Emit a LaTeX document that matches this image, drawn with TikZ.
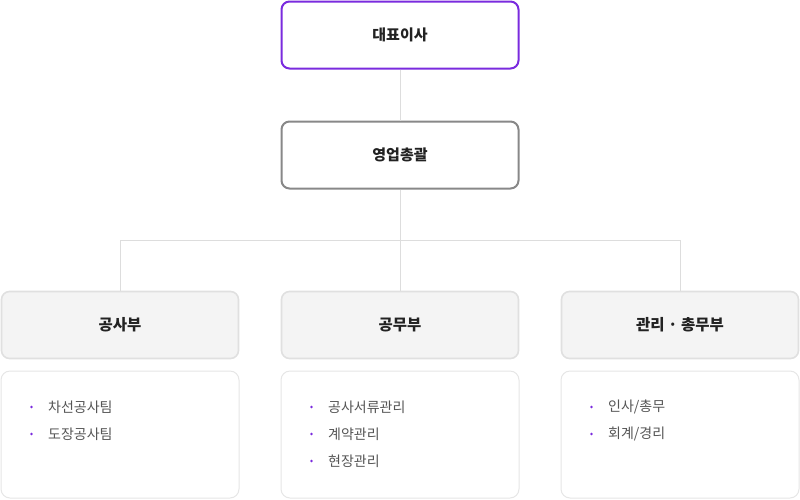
\documentclass[tikz,border=0pt]{standalone}
\usepackage{fontspec}
\setmainfont{Noto Sans CJK KR}
\begin{document}
\begin{tikzpicture}[x=1pt,y=-1pt,
  topbox/.style={draw=purpleB,line width=2pt,rounded corners=8pt,fill=white,minimum width=237pt,minimum height=67pt,inner sep=0pt,font=\fontsize{15}{17}\selectfont\bfseries,text=textD},
  midbox/.style={draw=grayB,line width=2pt,rounded corners=8pt,fill=white,minimum width=237pt,minimum height=67pt,inner sep=0pt,font=\fontsize{15}{17}\selectfont\bfseries,text=textD},
  deptbox/.style={draw=lightB,line width=1.6pt,rounded corners=8pt,fill=deptF,minimum width=237pt,minimum height=67pt,inner sep=0pt,font=\fontsize{15.5}{17}\selectfont\bfseries,text=textD},
  listbox/.style={draw=listB,line width=1pt,rounded corners=9pt,fill=white,minimum width=238pt,minimum height=127pt,inner sep=0pt},
  item/.style={anchor=west,inner sep=0pt,font=\fontsize{14}{16}\selectfont,text=textL},
  bul/.style={fill=purpleB},
  conn/.style={draw=lineC,line width=1pt}
]
\definecolor{purpleB}{HTML}{7A2BDE}
\definecolor{grayB}{HTML}{888888}
\definecolor{lightB}{HTML}{E0E0E0}
\definecolor{deptF}{HTML}{F4F4F4}
\definecolor{listB}{HTML}{E6E6E6}
\definecolor{lineC}{HTML}{DDDDDD}
\definecolor{textD}{HTML}{222222}
\definecolor{textL}{HTML}{555555}
\useasboundingbox (0,0) rectangle (800,499);

\node[topbox] (ceo) at (400,35) {대표이사};
\node[midbox] (sales) at (400,155) {영업총괄};
\node[deptbox] (d1) at (120,325) {공사부};
\node[deptbox] (d2) at (400,325) {공무부};
\node[deptbox] (d3) at (680,325) {관리 · 총무부};
\node[listbox] (l1) at (120,434.5) {};
\node[listbox] (l2) at (400,434.5) {};
\node[listbox] (l3) at (680,434.5) {};

\coordinate (hub) at (400,240);
\coordinate (hl) at (120,240);
\coordinate (hr) at (680,240);
\draw[conn] (ceo.south) -- (sales.north);
\draw[conn] (sales.south) -- (hub);
\draw[conn] (hl) -- (hr);
\draw[conn] (hl) -- (d1.north);
\draw[conn] (hub) -- (d2.north);
\draw[conn] (hr) -- (d3.north);

% bullets
\foreach \bx/\by in {31.5/407,31.5/434,311.5/407,311.5/434,311.5/461,591.5/407,591.5/434}
  \fill[bul] (\bx,\by) circle (1.4pt);
% list 1
\node[item] (t11) at (48,407) {차선공사팀};
\node[item] (t12) at (48,434) {도장공사팀};
% list 2
\node[item] (t21) at (328,407) {공사서류관리};
\node[item] (t22) at (328,434) {계약관리};
\node[item] (t23) at (328,461) {현장관리};
% list 3
\node[item] (t31) at (608,407) {인사/총무};
\node[item] (t32) at (608,434) {회계/경리};
\end{tikzpicture}
\end{document}
